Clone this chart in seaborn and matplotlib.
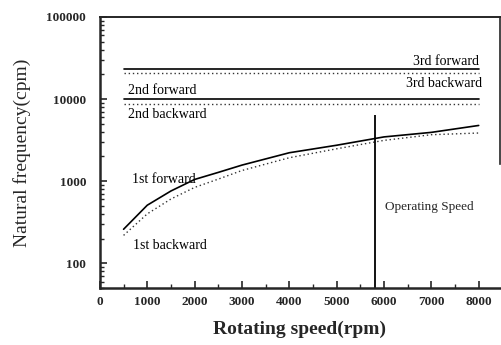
import numpy as np
import pandas as pd
import matplotlib
matplotlib.use("Agg")
import matplotlib.pyplot as plt
import seaborn as sns
from matplotlib.ticker import FixedLocator, LogLocator, NullFormatter

# Data
speed = [500, 1000, 1500, 2000, 2500, 3000, 4000, 5000, 6000, 7000, 8000]
first_fwd = [260, 510, 760, 1050, 1280, 1570, 2220, 2740, 3460, 3930, 4770]
first_bwd = [219, 400, 607, 840, 1060, 1350, 1930, 2480, 3140, 3680, 3860]
second_fwd = [10000] * len(speed)
second_bwd = [8800] * len(speed)
third_fwd = [23000] * len(speed)
third_bwd = [20500] * len(speed)
operating_speed = 5820
xticks = [0, 1000, 2000, 3000, 4000, 5000, 6000, 7000, 8000]
yticks = [100, 1000, 10000, 100000]

sns.set_style("ticks")
plt.rcParams['font.family'] = ['Liberation Serif', 'DejaVu Serif']

df = pd.DataFrame({
    "speed": speed * 6,
    "freq": first_fwd + first_bwd + second_fwd + second_bwd + third_fwd + third_bwd,
    "mode": (["1f"] * len(speed) + ["1b"] * len(speed) + ["2f"] * len(speed)
             + ["2b"] * len(speed) + ["3f"] * len(speed) + ["3b"] * len(speed)),
})

fig = plt.figure(figsize=(5.02, 3.45), dpi=100)
ax = fig.add_axes([0.199, 0.165, 0.797, 0.786])

solid = df[df["mode"].isin(["1f", "2f", "3f"])]
dotted = df[df["mode"].isin(["1b", "2b", "3b"])]
sns.lineplot(data=solid, x="speed", y="freq", units="mode", estimator=None,
             color="black", lw=1.2, ax=ax)
sns.lineplot(data=dotted, x="speed", y="freq", units="mode", estimator=None,
             color="#333333", lw=1.0, linestyle=(0, (1, 2)), ax=ax)

ax.vlines(operating_speed, 50, 6400, color="black", lw=1.3)

ax.set_yscale("log")
ax.set_xlim(0, 8450)
ax.set_ylim(50, 100000)

ax.xaxis.set_major_locator(FixedLocator(xticks))
ax.xaxis.set_minor_locator(FixedLocator(np.arange(500, 8500, 1000)))
ax.yaxis.set_major_locator(FixedLocator(yticks))
ax.yaxis.set_minor_locator(LogLocator(base=10, subs=np.arange(2, 10)))
ax.yaxis.set_minor_formatter(NullFormatter())
ax.set_yticklabels([str(v) for v in yticks])
ax.set_xticklabels([str(v) for v in xticks])

ax.tick_params(which="major", direction="in", length=5, width=1.2,
               labelsize=9.5, pad=6)
ax.tick_params(which="minor", direction="in", length=3, width=1.0)
ax.tick_params(axis="y", which="major", pad=10)
for lbl in ax.get_xticklabels() + ax.get_yticklabels():
    lbl.set_fontweight("bold")

for side in ["left", "bottom"]:
    ax.spines[side].set_linewidth(1.8)
ax.spines["top"].set_linewidth(1.4)
ax.spines["right"].set_linewidth(1.2)
ax.spines["right"].set_bounds(1600, 100000)

ax.set_xlabel("Rotating speed(rpm)", fontsize=14, fontweight="bold", labelpad=9)
ax.set_ylabel("Natural frequency(cpm)", fontsize=14, labelpad=11)

txt = dict(fontsize=10, color="black")
ax.text(8000, 23600, "3rd forward", ha="right", va="bottom", **txt)
ax.text(8080, 18500, "3rd backward", ha="right", va="top", **txt)
ax.text(600, 10500, "2nd forward", ha="left", va="bottom", **txt)
ax.text(600, 7800, "2nd backward", ha="left", va="top", **txt)
ax.text(680, 1050, "1st forward", ha="left", va="center", **txt)
ax.text(700, 200, "1st backward", ha="left", va="top", **txt)
ax.text(6030, 480, "Operating Speed", ha="left", va="center", fontsize=9.5)

fig.savefig("out.png", dpi=100)
